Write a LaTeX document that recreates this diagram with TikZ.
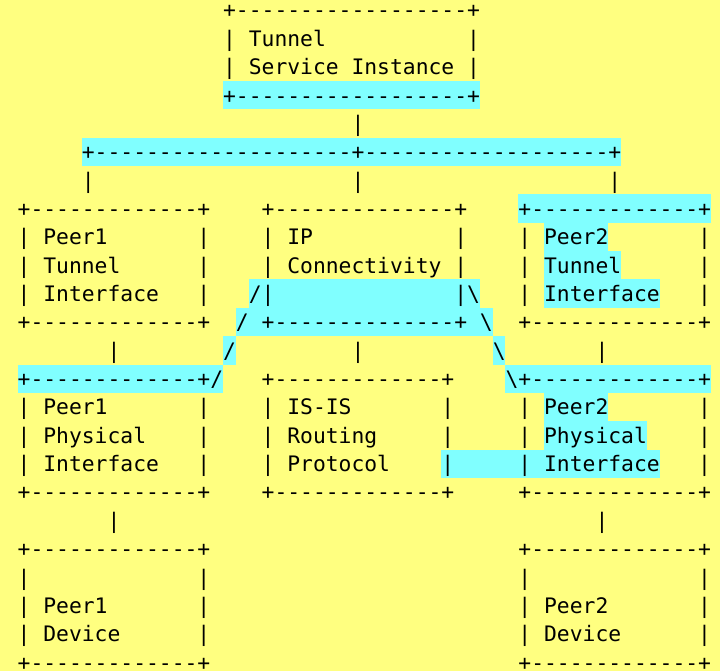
\documentclass[tikz,border=0pt]{standalone}
\usepackage{fontspec}
\setmonofont{DejaVu Sans Mono}
\definecolor{paper}{HTML}{FFFF80}
\definecolor{hlcyan}{HTML}{80FFFF}
\ExplSyntaxOn
\cs_new:Npn \dashrun #1 { \prg_replicate:nn {#1} {-} }
\ExplSyntaxOff
% a box border: plus, n dashes, plus
\newcommand\bd[1]{+\dashrun{#1}+}
% character grid: column c starts at 17.5+12.84c, row r is 28.35 high
\newcommand\hlcells[3]{\fill[hlcyan] ({17.5+12.84*#2},{-4.05+28.35*#1}) rectangle ({17.5+12.84*(#3+1)},{-4.05+28.35*(#1+1)});}
\newcommand\asciiat[4]{\node[asciitext] (#1) at ({17.5+12.84*#3},{18+28.35*#2}) {#4};}
\tikzset{asciitext/.style={font=\ttfamily\fontsize{21.33pt}{28.35pt}\selectfont, inner sep=0pt, anchor=base west, text=black}}
\begin{document}
\begin{tikzpicture}[x=1pt,y=-1pt]
\fill[paper] (0,0) rectangle (720,671);
\useasboundingbox (0,0) rectangle (720,671);
% highlighted cells
\hlcells{3}{16}{35}
\hlcells{5}{5}{46}
\hlcells{7}{39}{53}
\hlcells{8}{41}{45}
\hlcells{9}{41}{46}
\hlcells{10}{18}{35}
\hlcells{10}{41}{49}
\hlcells{11}{17}{36}
\hlcells{12}{16}{16}
\hlcells{12}{37}{37}
\hlcells{13}{0}{15}
\hlcells{13}{38}{53}
\hlcells{14}{41}{45}
\hlcells{15}{41}{48}
\hlcells{16}{33}{49}
% tunnel service instance
\asciiat{r0a}{0}{16}{\bd{18}}
\asciiat{r1a}{1}{16}{|}\asciiat{r1b}{1}{18}{Tunnel}\asciiat{r1c}{1}{35}{|}
\asciiat{r2a}{2}{16}{|}\asciiat{r2b}{2}{18}{Service Instance}\asciiat{r2c}{2}{35}{|}
\asciiat{r3a}{3}{16}{\bd{18}}
\asciiat{r4a}{4}{26}{|}
\asciiat{r5a}{5}{5}{+\dashrun{20}+\dashrun{19}+}
\asciiat{r6a}{6}{5}{|}\asciiat{r6b}{6}{26}{|}\asciiat{r6c}{6}{46}{|}
% tunnel interfaces and IP connectivity
\asciiat{r7a}{7}{0}{\bd{13}}\asciiat{r7b}{7}{19}{\bd{14}}\asciiat{r7c}{7}{39}{\bd{13}}
\asciiat{r8a}{8}{0}{|}\asciiat{r8b}{8}{2}{Peer1}\asciiat{r8c}{8}{14}{|}
\asciiat{r8d}{8}{19}{|}\asciiat{r8e}{8}{21}{IP}\asciiat{r8f}{8}{34}{|}
\asciiat{r8g}{8}{39}{|}\asciiat{r8h}{8}{41}{Peer2}\asciiat{r8i}{8}{53}{|}
\asciiat{r9a}{9}{0}{|}\asciiat{r9b}{9}{2}{Tunnel}\asciiat{r9c}{9}{14}{|}
\asciiat{r9d}{9}{19}{|}\asciiat{r9e}{9}{21}{Connectivity}\asciiat{r9f}{9}{34}{|}
\asciiat{r9g}{9}{39}{|}\asciiat{r9h}{9}{41}{Tunnel}\asciiat{r9i}{9}{53}{|}
\asciiat{r10a}{10}{0}{|}\asciiat{r10b}{10}{2}{Interface}\asciiat{r10c}{10}{14}{|}
\asciiat{r10d}{10}{18}{/|}\asciiat{r10f}{10}{34}{|\textbackslash}
\asciiat{r10g}{10}{39}{|}\asciiat{r10h}{10}{41}{Interface}\asciiat{r10i}{10}{53}{|}
\asciiat{r11a}{11}{0}{\bd{13}}\asciiat{r11b}{11}{17}{/}\asciiat{r11c}{11}{19}{\bd{14}}
\asciiat{r11d}{11}{36}{\textbackslash}\asciiat{r11e}{11}{39}{\bd{13}}
\asciiat{r12a}{12}{7}{|}\asciiat{r12b}{12}{16}{/}\asciiat{r12c}{12}{26}{|}
\asciiat{r12d}{12}{37}{\textbackslash}\asciiat{r12e}{12}{45}{|}
% physical interfaces and IS-IS
\asciiat{r13a}{13}{0}{\bd{13}/}\asciiat{r13b}{13}{19}{\bd{13}}\asciiat{r13c}{13}{38}{\textbackslash\bd{13}}
\asciiat{r14a}{14}{0}{|}\asciiat{r14b}{14}{2}{Peer1}\asciiat{r14c}{14}{14}{|}
\asciiat{r14d}{14}{19}{|}\asciiat{r14e}{14}{21}{IS-IS}\asciiat{r14f}{14}{33}{|}
\asciiat{r14g}{14}{39}{|}\asciiat{r14h}{14}{41}{Peer2}\asciiat{r14i}{14}{53}{|}
\asciiat{r15a}{15}{0}{|}\asciiat{r15b}{15}{2}{Physical}\asciiat{r15c}{15}{14}{|}
\asciiat{r15d}{15}{19}{|}\asciiat{r15e}{15}{21}{Routing}\asciiat{r15f}{15}{33}{|}
\asciiat{r15g}{15}{39}{|}\asciiat{r15h}{15}{41}{Physical}\asciiat{r15i}{15}{53}{|}
\asciiat{r16a}{16}{0}{|}\asciiat{r16b}{16}{2}{Interface}\asciiat{r16c}{16}{14}{|}
\asciiat{r16d}{16}{19}{|}\asciiat{r16e}{16}{21}{Protocol}\asciiat{r16f}{16}{33}{|}
\asciiat{r16g}{16}{39}{|}\asciiat{r16h}{16}{41}{Interface}\asciiat{r16i}{16}{53}{|}
\asciiat{r17a}{17}{0}{\bd{13}}\asciiat{r17b}{17}{19}{\bd{13}}\asciiat{r17c}{17}{39}{\bd{13}}
\asciiat{r18a}{18}{7}{|}\asciiat{r18b}{18}{45}{|}
% devices
\asciiat{r19a}{19}{0}{\bd{13}}\asciiat{r19b}{19}{39}{\bd{13}}
\asciiat{r20a}{20}{0}{|}\asciiat{r20b}{20}{14}{|}\asciiat{r20c}{20}{39}{|}\asciiat{r20d}{20}{53}{|}
\asciiat{r21a}{21}{0}{|}\asciiat{r21b}{21}{2}{Peer1}\asciiat{r21c}{21}{14}{|}
\asciiat{r21d}{21}{39}{|}\asciiat{r21e}{21}{41}{Peer2}\asciiat{r21f}{21}{53}{|}
\asciiat{r22a}{22}{0}{|}\asciiat{r22b}{22}{2}{Device}\asciiat{r22c}{22}{14}{|}
\asciiat{r22d}{22}{39}{|}\asciiat{r22e}{22}{41}{Device}\asciiat{r22f}{22}{53}{|}
\asciiat{r23a}{23}{0}{\bd{13}}\asciiat{r23b}{23}{39}{\bd{13}}
\end{tikzpicture}
\end{document}
